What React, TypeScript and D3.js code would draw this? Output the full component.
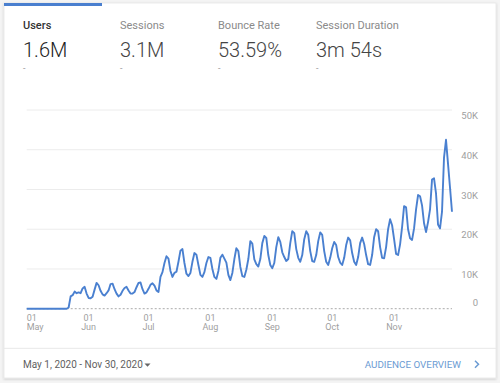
import React from "react";
import * as d3 from "d3";

const START_DATE = "2020-05-01";
const END_DATE = "2020-11-30";

// Daily users (thousands), May 1 – Nov 30, 2020
const usersK: number[] = [
  0, 0, 0, 0, 0, 0, 0,
  0, 0, 0, 0, 0, 0, 0,
  0, 0, 0, 0, 0, 0, 0,
  0.3, 3.1, 3.4, 4.3, 3.9, 4.1, 3.9,
  5.1, 5.5, 3.8, 2.7, 2.6, 3.0, 4.8,
  6.5, 5.9, 4.5, 3.6, 3.3, 3.9, 4.6,
  6.2, 6.3, 4.9, 3.8, 3.1, 3.5, 4.5,
  5.2, 5.5, 4.6, 3.8, 3.8, 4.2, 5.4,
  6.5, 6.6, 4.9, 3.8, 4.1, 5.0, 6.0,
  6.4, 5.8, 4.6, 4.2, 8.0, 9.2, 11.5,
  13.2, 12.6, 9.5, 8.0, 9.0, 9.3, 11.8,
  14.6, 15.0, 11.5, 8.8, 8.2, 9.0, 11.8,
  14.0, 13.6, 11.0, 8.5, 8.0, 9.2, 11.5,
  13.0, 12.8, 10.0, 8.0, 7.5, 9.5, 12.8,
  13.6, 12.6, 11.6, 8.5, 7.2, 9.0, 12.5,
  15.2, 14.5, 10.5, 8.2, 8.0, 9.8, 12.5,
  17.0, 16.4, 12.4, 11.2, 10.6, 12.5, 16.5,
  18.3, 17.8, 13.5, 11.0, 10.2, 11.5, 15.5,
  18.0, 16.8, 14.2, 13.0, 12.0, 12.5, 16.5,
  19.5, 19.0, 15.0, 12.8, 11.8, 13.5, 17.5,
  19.5, 18.6, 14.5, 12.0, 11.8, 13.5, 17.0,
  19.2, 18.6, 14.5, 11.8, 11.0, 12.8, 15.2,
  16.8, 16.0, 13.0, 11.6, 11.0, 12.8, 16.0,
  17.9, 17.2, 14.0, 11.8, 11.0, 13.0, 16.5,
  17.9, 16.3, 13.5, 11.2, 11.0, 13.5, 18.0,
  20.0, 19.5, 15.5, 12.8, 12.7, 15.5, 20.0,
  22.5, 21.0, 17.5, 13.8, 13.5, 16.2, 20.5,
  25.8, 25.5, 20.0, 17.7, 17.3, 20.2, 25.0,
  28.6, 28.3, 26.0, 21.5, 19.3, 21.8, 25.0,
  32.5, 32.8, 29.0, 21.2, 20.2, 24.4, 38.0,
  42.5, 36.5, 30.5, 24.4,
];

const yTicks = [0, 10000, 20000, 30000, 40000, 50000];
const yTickLabels = ["0", "10K", "20K", "30K", "40K", "50K"];
const xTickDates = ["2020-05-01", "2020-06-01", "2020-07-01", "2020-08-01", "2020-09-01", "2020-10-01", "2020-11-01"];
const xTickMonths = ["May", "Jun", "Jul", "Aug", "Sep", "Oct", "Nov"];

const metricNames = ["Users", "Sessions", "Bounce Rate", "Session Duration"];
const metricValues = ["1.6M", "3.1M", "53.59%", "3m 54s"];

const FONT = "Roboto, 'Noto Sans', Arial, sans-serif";

export default function App() {
  const parse = d3.utcParse("%Y-%m-%d");
  const start = parse(START_DATE)!;
  const end = parse(END_DATE)!;
  const data = usersK.map((v, i) => ({ date: d3.utcDay.offset(start, i), value: v * 1000 }));

  const x = d3.scaleUtc().domain([start, end]).range([26.7, 452]);
  const y = d3.scaleLinear().domain([0, 50000]).range([308.7, 110]);

  const line = d3
    .line<{ date: Date; value: number }>()
    .x((d) => x(d.date))
    .y((d) => y(d.value));

  const metricX = [23, 120, 218, 316];

  return (
    <svg
      width={500}
      height={383}
      style={{ position: "absolute", left: 0, top: 0, fontFamily: FONT }}
    >
      <defs>
        <filter id="shadow" x="-5%" y="-5%" width="110%" height="110%">
          <feDropShadow dx="0" dy="1" stdDeviation="1" floodColor="#000" floodOpacity="0.18" />
        </filter>
      </defs>
      <rect x={0} y={0} width={500} height={383} fill="#f4f4f4" />
      <rect x={4} y={3} width={492} height={375} fill="#ffffff" stroke="#e6e6e6" strokeWidth={0.8} filter="url(#shadow)" />
      <rect x={4} y={3} width={98} height={3} fill="#4a7fcf" />

      {metricNames.map((n, i) => (
        <g key={n}>
          <text x={metricX[i]} y={29} fontSize={11} fontWeight={i === 0 ? 500 : 400} fill={i === 0 ? "#333" : "#8a8a8a"}>
            {n}
          </text>
          <text x={metricX[i]} y={57.3} fontSize={20} fontWeight={300} fill={i === 0 ? "#212121" : "#444"}>
            {metricValues[i]}
          </text>
          <text x={metricX[i]} y={71} fontSize={9} fill="#999">-</text>
        </g>
      ))}

      {/* gridlines */}
      {yTicks.map((t) =>
        t === 0 ? null : (
          <line key={t} x1={26.7} x2={452} y1={y(t)} y2={y(t)} stroke="#ececec" strokeWidth={1} />
        )
      )}
      <line x1={26.7} x2={452} y1={y(0)} y2={y(0)} stroke="#aaa" strokeWidth={1} strokeDasharray="2,2" />

      {/* y labels */}
      {yTicks.map((t, i) => (
        <text
          key={"yl" + t}
          x={478}
          y={t === 0 ? y(t) - 2.7 : y(t) + 9.2}
          textAnchor="end"
          fontSize={9.5}
          fill="#a0a0a0"
        >
          {yTickLabels[i]}
        </text>
      ))}

      {/* x labels */}
      {xTickDates.map((ds, i) => {
        const px = x(parse(ds)!);
        const anchor = i === 0 ? "start" : "middle";
        return (
          <g key={ds}>
            <text x={px} y={320.5} textAnchor={anchor} fontSize={9} fill="#a0a0a0">01</text>
            <text x={px} y={330} textAnchor={anchor} fontSize={9} fill="#a0a0a0">{xTickMonths[i]}</text>
          </g>
        );
      })}

      <path d={line(data) || ""} fill="none" stroke="#4a80d0" strokeWidth={1.9} strokeLinejoin="round" />

      {/* footer */}
      <line x1={4} x2={496} y1={348.3} y2={348.3} stroke="#e8e8e8" strokeWidth={1} />
      <text x={23} y={367.5} fontSize={10} fill="#5f5f5f">May 1, 2020 - Nov 30, 2020</text>
      <path d="M144.5,363.5 L150.5,363.5 L147.5,366.8 Z" fill="#666" />
      <text x={461} y={367.5} textAnchor="end" fontSize={9.8} fill="#6b9bd3">AUDIENCE OVERVIEW</text>
      <path d="M475,360.8 L478.5,364.3 L475,367.8" fill="none" stroke="#6b9bd3" strokeWidth={1.5} />
    </svg>
  );
}
